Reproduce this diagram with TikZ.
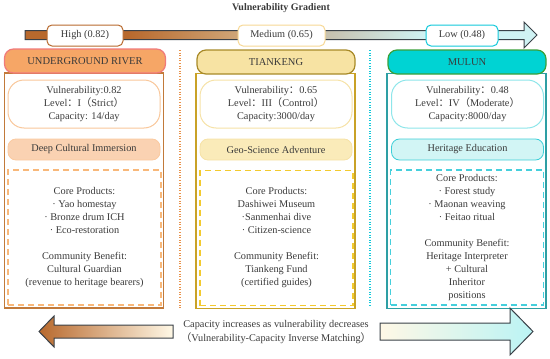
\documentclass[tikz,border=0pt]{standalone}
\usepackage{fontspec}
\setmainfont{Liberation Serif}
\newfontfamily\cjkfont{Noto Sans CJK SC}

\definecolor{txt}{HTML}{3A3A3A}
\definecolor{arrowline}{HTML}{3A4148}
\definecolor{rivbrown}{HTML}{B8692D}
\definecolor{gradtan}{HTML}{D0A779}
\definecolor{gradgray}{HTML}{C6C3B2}
\definecolor{gradcyan}{HTML}{CFF2F3}
\definecolor{cream}{HTML}{FFF8E6}
\definecolor{rivhead}{HTML}{F6A666}
\definecolor{rivheadline}{HTML}{F07A7A}
\definecolor{rivpanel}{HTML}{C27A3A}
\definecolor{rivinfo}{HTML}{F9C79A}
\definecolor{rivtheme}{HTML}{FAD2B2}
\definecolor{rivdash}{HTML}{F8B87A}
\definecolor{tkhead}{HTML}{F7E3A3}
\definecolor{tkheadline}{HTML}{A88A28}
\definecolor{tkpanel}{HTML}{C9A227}
\definecolor{tkinfo}{HTML}{F6E2A6}
\definecolor{tktheme}{HTML}{FAEBB9}
\definecolor{tkdash}{HTML}{F3CA2E}
\definecolor{mulhead}{HTML}{00D3D3}
\definecolor{mulheadline}{HTML}{3AA03A}
\definecolor{mulpanel}{HTML}{2E9FA4}
\definecolor{mulinfo}{HTML}{8EE6EA}
\definecolor{multheme}{HTML}{D2F5F5}
\definecolor{multhemeline}{HTML}{3DCFD8}
\definecolor{muldash}{HTML}{45CFDC}
\definecolor{rivsep}{HTML}{E9924A}
\definecolor{mulsep}{HTML}{12C9DB}

\pgfdeclarehorizontalshading{vulgrad}{100bp}{color(0bp)=(rivbrown); color(35bp)=(rivbrown); color(46bp)=(gradtan); color(55bp)=(gradgray); color(64bp)=(gradcyan); color(100bp)=(gradcyan)}

\begin{document}
\begin{tikzpicture}[x=1pt,y=-1pt,font=\fontsize{10.3}{13}\selectfont,text=txt,
 hdr/.style={rounded corners=9pt,line width=1.2pt,minimum width=161pt,minimum height=24pt,font=\fontsize{10.5}{13}\selectfont},
 panel/.style={line width=1.2pt,minimum width=159pt,minimum height=235pt},
 infobox/.style={rounded corners=16pt,line width=1pt,fill=white,minimum width=152pt,minimum height=48pt,align=center},
 themebox/.style={rounded corners=8pt,line width=0.8pt,minimum width=152pt,minimum height=21pt},
 prodbox/.style={dash pattern=on 6pt off 4pt,line width=1.2pt,minimum width=153pt,minimum height=135pt,align=center},
 glabel/.style={rounded corners=5pt,line width=1pt,fill=white,minimum height=21pt},
 bigarrow/.style={draw=arrowline,line width=1pt},
 sepline/.style={line width=1.2pt,dash pattern=on 1pt off 1.6pt}]
\useasboundingbox (0,0) rectangle (550,359);
\node[font=\bfseries\fontsize{10}{12}\selectfont] (title) at (281,8) {Vulnerability Gradient};

% gradient bar
\shade[bigarrow,shading=vulgrad] (25,30.5) -- (524,30.5) -- (524,22) -- (537,35) -- (524,48) -- (524,39.5) -- (25,39.5) -- cycle;
\node[glabel,draw=rivbrown,minimum width=76pt] (high) at (85,35.5) {High (0.82)};
\node[glabel,draw=tkinfo!90!orange,minimum width=87pt] (medium) at (281.5,35.5) {Medium (0.65)};
\node[glabel,draw=mulsep,minimum width=72pt] (low) at (462,35.5) {Low (0.48)};

% separators
\draw[sepline,draw=rivsep] (180,50) -- (180,308);
\draw[sepline,draw=mulsep] (370,50) -- (370,306);

% underground river
\node[panel,draw=rivpanel] (rivpanel) at (84,190.5) {};
\node[hdr,fill=rivhead,draw=rivheadline] (rivhead) at (85,61) {UNDERGROUND RIVER};
\node[infobox,draw=rivinfo] (rivinfo) at (84,104) {Vulnerability:0.82\\Level{\cjkfont ：}I{\cjkfont （}Strict{\cjkfont ）}\\Capacity: 14/day};
\node[themebox,fill=rivtheme,draw=rivtheme!90!orange] (rivtheme) at (84,149.5) {Deep Cultural Immersion};
\node[prodbox,draw=rivdash] (rivprod) at (84.5,237.5) {Core Products:\\· Yao homestay\\· Bronze drum ICH\\· Eco-restoration\\[13pt]Community Benefit:\\Cultural Guardian\\(revenue to heritage bearers)};

% tiankeng
\node[panel,draw=tkpanel] (tkpanel) at (275.5,191) {};
\node[hdr,fill=tkhead,draw=tkheadline,minimum width=158pt] (tkhead) at (276,62) {TIANKENG};
\node[infobox,draw=tkinfo] (tkinfo) at (276,104) {Vulnerability{\cjkfont ：}0.65\\Level{\cjkfont ：}III{\cjkfont （}Control{\cjkfont ）}\\Capacity:3000/day};
\node[themebox,fill=tktheme,draw=tkinfo] (tktheme) at (276,149.5) {Geo-Science Adventure};
\node[prodbox,draw=tkdash] (tkprod) at (276.5,238) {Core Products:\\Dashiwei Museum\\·Sanmenhai dive\\· Citizen-science\\[13pt]Community Benefit:\\Tiankeng Fund\\(certified guides)};

% mulun
\node[panel,draw=mulpanel] (mulpanel) at (466.5,191) {};
\node[hdr,fill=mulhead,draw=mulheadline,minimum width=158pt] (mulhead) at (467,62) {MULUN};
\node[infobox,draw=mulinfo] (mulinfo) at (467.5,104) {Vulnerability{\cjkfont ：}0.48\\Level{\cjkfont ：}IV{\cjkfont （}Moderate{\cjkfont ）}\\Capacity:8000/day};
\node[themebox,fill=multheme,draw=multhemeline] (multheme) at (467.5,149.5) {Heritage Education};
\node[prodbox,draw=muldash] (mulprod) at (467,237.5) {Core Products:\\· Forest study\\· Maonan weaving\\· Feitao ritual\\[13pt]Community Benefit:\\Heritage Interpreter\\+ Cultural\\Inheritor\\positions};

% capacity arrows
\shade[bigarrow,left color=rivbrown,right color=cream] (173,325) -- (54,325) -- (54,316) -- (39,331.5) -- (54,347) -- (54,338) -- (173,338) -- cycle;
\shade[bigarrow,left color=cream,right color=gradcyan!90!cyan] (380,323) -- (510,323) -- (510,308) -- (533,331.5) -- (510,355) -- (510,340) -- (380,340) -- cycle;
\node[align=center,font=\fontsize{10.3}{14}\selectfont] (note) at (276,332) {Capacity increases as vulnerability decreases\\{\cjkfont （}Vulnerability-Capacity Inverse Matching{\cjkfont ）}};
\end{tikzpicture}
\end{document}
